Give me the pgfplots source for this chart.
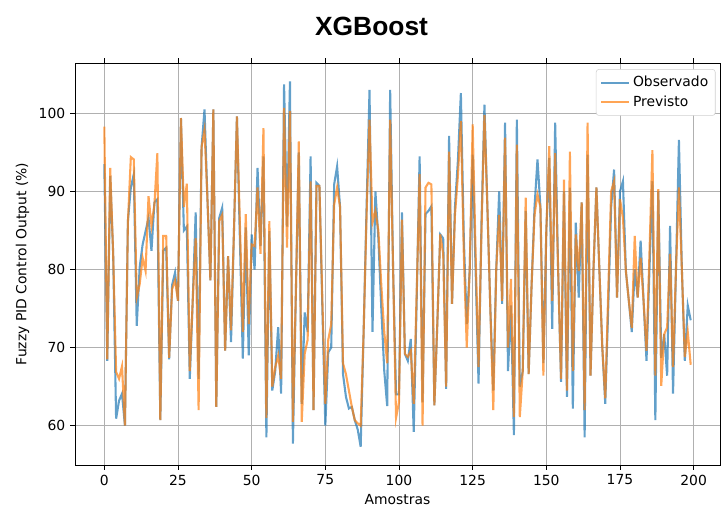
\documentclass[border=0pt]{standalone}
\usepackage{pgfplots}
\usepackage{pgfplotstable}
\pgfplotsset{compat=1.18}
\usepackage{fontspec}
\setmainfont{DejaVu Sans}
\newfontfamily\titlefont{Liberation Sans}
\definecolor{tabblue}{HTML}{1F77B4}
\definecolor{taborange}{HTML}{FF7F0E}
\definecolor{gridgray}{HTML}{B0B0B0}
\pgfplotstableread{
i obs prev
0 93.5 98.3
1 68.3 68.5
2 92.0 93.0
3 82 82
4 60.9 66.9
5 63.2 66.0
6 64.1 67.6
7 60.0 60.0
8 86.2 86
9 90.5 94.4
10 92.2 94.1
11 72.8 76.4
12 80.3 78.1
13 83.2 81.5
14 84.9 79.8
15 86.6 89.4
16 82.4 85.6
17 88.6 88.3
18 89.0 94.9
19 60.7 60.7
20 82.4 84.3
21 82.8 84.3
22 68.5 68.7
23 78 77.5
24 79.6 78.6
25 76 76
26 99.4 99.4
27 85 88
28 85.5 91.0
29 66.0 67.0
30 76 76
31 87.3 84
32 66 62
33 95.6 95.6
34 100.5 97.9
35 89 89
36 78.6 78.6
37 100.5 100.5
38 62.4 62.4
39 86.6 86.2
40 87.9 87
41 69.6 69.6
42 81.7 81.7
43 70.7 72.2
44 85 85
45 99.6 99.6
46 84 86
47 68.6 72
48 85.4 87.1
49 69 73
50 84.5 83.2
51 80 83
52 93.0 90.5
53 83 82
54 94.5 98.1
55 58.5 61
56 84.9 86.2
57 64.5 65
58 67 67.5
59 72.6 69
60 64.1 66
61 103.7 100.7
62 85.5 82.8
63 104.1 100.3
64 57.7 60.5
65 77 77
66 95 96.4
67 62.8 60.5
68 74.5 69.2
69 72 71
70 94.5 91.3
71 62 62
72 91.1 90.7
73 90.7 90.7
74 75 76
75 60.0 62.8
76 69.4 71
77 70 73
78 90.9 88.3
79 93.2 90.5
80 88 88
81 66.6 68
82 63.7 66.6
83 62.2 64.5
84 62.4 62.4
85 60.7 60.7
86 59.5 60.3
87 57.3 60.0
88 72 72
89 88 87
90 103.0 99.2
91 72 86
92 90 87.5
93 84 85
94 75 78
95 67 72
96 62.5 68
97 103.0 99.2
98 80 80
99 64 61
100 64 63
101 87.3 86.4
102 69.2 69.2
103 68.3 68.8
104 71.1 69.6
105 59.2 62.8
106 76 77
107 94.5 92.2
108 63 60
109 87.1 90.5
110 87.5 91.1
111 88.1 90.9
112 62.6 62.6
113 73 73
114 84.5 84.5
115 84 82
116 64.7 65
117 97.1 95.1
118 75.6 75.6
119 88 87
120 94 92
121 102.6 99.0
122 84 82
123 73 70
124 80 80
125 94.7 98.6
126 80 82
127 65.4 67.5
128 86 85
129 101.1 99.8
130 88 88
131 75 75
132 64.5 62
133 80 80
134 90 87
135 75.6 76
136 98.8 96.9
137 67 70
138 75.4 78.8
139 58.8 61.1
140 99.2 96.0
141 65 61.1
142 67 67
143 87.5 89.2
144 66.6 66.6
145 78 78
146 88 87
147 94.1 89.6
148 88 88
149 68 66.4
150 85 85
151 94.3 95.8
152 72.4 76
153 98.8 94.9
154 80 80
155 65.6 66
156 90 91.5
157 63.7 64.5
158 90.5 95.1
159 62.2 67
160 86 84.5
161 76.4 79.8
162 88.6 88.6
163 58.5 62
164 94.7 98.8
165 66.4 66.4
166 80 80
167 90.5 90.5
168 80 80
169 70 70
170 62.8 63.5
171 75 77
172 88 90
173 92.8 91.3
174 76.4 76.4
175 90 89
176 91.3 86.6
177 79.8 79.8
178 76 76
179 72 72.5
180 80 84.3
181 76.4 76.4
182 83.7 81.5
183 76 76
184 68.3 69.6
185 80 82
186 91.3 95.3
187 60.7 66.4
188 90.0 90.3
189 68.7 65.1
190 71.7 71.7
191 66.4 72.6
192 85.6 82
193 64.1 67.5
194 80 80
195 96.6 90.5
196 80 80
197 68.3 68.8
198 75.4 72
199 73.5 67.8
}\datatable
\begin{document}
\begin{tikzpicture}
\useasboundingbox (-54pt,-33.1pt) rectangle (465.1pt,334.8pt);
\begin{axis}[
  at={(0,0)}, anchor=south west,
  scale only axis,
  width=464.4pt, height=289.4pt,
  xmin=-9.95, xmax=208.95,
  ymin=54.96, ymax=106.44,
  xtick={0,25,50,75,100,125,150,175,200},
  ytick={60,70,80,90,100},
  tick align=outside,
  major tick length=3.5pt,
  tick style={black, line width=0.6pt},
  axis line style={line width=0.6pt},
  grid=major,
  major grid style={gridgray, line width=0.6pt},
  tick label style={font=\fontsize{10}{12}\selectfont},
  /pgf/number format/assume math mode=true,
  xlabel={Amostras},
  ylabel={Fuzzy PID Control Output (\%)},
  label style={font=\fontsize{10}{12}\selectfont},
  legend style={at={(0.993,0.985)}, anchor=north east, draw=gridgray!60, rounded corners=2pt, font=\fontsize{10}{12}\selectfont, row sep=1pt, inner sep=3pt},
  legend cell align=left,
  legend image code/.code={\draw[#1, opacity=0.7] (0pt,0pt) -- (20pt,0pt);},
]
\addplot[tabblue, line width=1.5pt, opacity=0.7] table[x=i, y=obs] {\datatable};
\addlegendentry{Observado}
\addplot[taborange, line width=1.5pt, opacity=0.7] table[x=i, y=prev] {\datatable};
\addlegendentry{Previsto}
\end{axis}
\node[font=\titlefont\bfseries\fontsize{19}{22}\selectfont, anchor=base] at (213.5pt,309.6pt) {XGBoost};
\end{tikzpicture}
\end{document}
